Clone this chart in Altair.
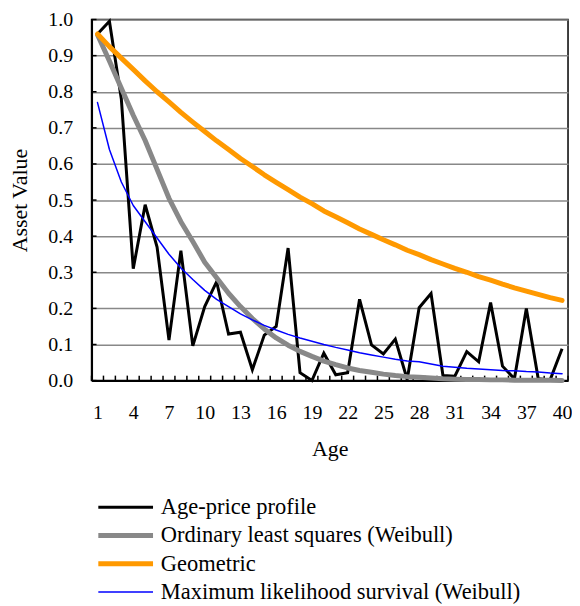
import altair as alt
import pandas as pd

ages = list(range(1, 41))

age_price = [0.960, 0.995, 0.780, 0.310, 0.487, 0.370, 0.112, 0.360, 0.096, 0.205,
             0.274, 0.129, 0.134, 0.030, 0.126, 0.150, 0.367, 0.022, 0.000, 0.076,
             0.016, 0.022, 0.225, 0.099, 0.074, 0.115, 0.003, 0.202, 0.241, 0.014,
             0.012, 0.080, 0.052, 0.216, 0.040, 0.005, 0.200, 0.005, 0.002, 0.088]

ols_weibull = [0.958, 0.885, 0.810, 0.735, 0.665, 0.585, 0.505, 0.440, 0.385, 0.328,
               0.285, 0.242, 0.205, 0.172, 0.143, 0.118, 0.098, 0.081, 0.067, 0.054,
               0.044, 0.035, 0.028, 0.023, 0.018, 0.014, 0.011, 0.009, 0.007, 0.005,
               0.004, 0.003, 0.003, 0.002, 0.002, 0.001, 0.001, 0.001, 0.001, 0.000]

geometric = [0.960, 0.925, 0.893, 0.862, 0.830, 0.800, 0.772, 0.743, 0.716, 0.690,
             0.664, 0.640, 0.615, 0.593, 0.570, 0.549, 0.529, 0.508, 0.490, 0.470,
             0.454, 0.437, 0.420, 0.405, 0.390, 0.376, 0.361, 0.349, 0.335, 0.323,
             0.311, 0.300, 0.288, 0.278, 0.267, 0.257, 0.248, 0.239, 0.230, 0.222]

ml_survival = [0.770, 0.640, 0.550, 0.485, 0.440, 0.395, 0.350, 0.312, 0.280, 0.250,
               0.225, 0.205, 0.185, 0.168, 0.153, 0.140, 0.128, 0.118, 0.109, 0.100,
               0.092, 0.085, 0.077, 0.071, 0.065, 0.059, 0.054, 0.052, 0.046, 0.040,
               0.037, 0.034, 0.032, 0.030, 0.028, 0.027, 0.025, 0.024, 0.021, 0.019]

series_names = ["Age-price profile", "Ordinary least squares (Weibull)",
                "Geometric", "Maximum likelihood survival (Weibull)"]
series_values = [age_price, ols_weibull, geometric, ml_survival]
series_colors = ["#000000", "#888888", "#FF9900", "#0000FF"]
series_widths = [3, 5, 5, 1.5]

x_tick_labels = [1, 4, 7, 10, 13, 16, 19, 22, 25, 28, 31, 34, 37, 40]
y_tick_values = [0.0, 0.1, 0.2, 0.3, 0.4, 0.5, 0.6, 0.7, 0.8, 0.9, 1.0]

FONT = "Liberation Serif, Times New Roman, DejaVu Serif, serif"

rows = []
for name, vals in zip(series_names, series_values):
    for a, v in zip(ages, vals):
        rows.append({"Age": a, "Value": v, "Series": name})
df = pd.DataFrame(rows)

bounds = pd.DataFrame({"b": [a - 0.5 for a in ages] + [ages[-1] + 0.5]})
yt = pd.DataFrame({"t": y_tick_values})

x_scale = alt.Scale(domain=[ages[0] - 0.5, ages[-1] + 0.5], nice=False, zero=False)
y_scale = alt.Scale(domain=[0, 1], nice=False)

legend = alt.Legend(
    title=None, orient="none", legendX=23, legendY=479, direction="vertical",
    symbolType="M-5,0H5", symbolSize=121, labelFont=FONT, labelFontSize=22.6,
    labelColor="#000000", labelOffset=24, rowPadding=5.4, labelLimit=600,
)

x_axis = alt.Axis(values=x_tick_labels, grid=False, tickSize=0, domainColor="#000000",
                  domainWidth=2, labelFont=FONT, labelFontSize=20, labelColor="#000000",
                  labelPadding=22, title="Age", titleFont=FONT, titleFontSize=22,
                  titleFontWeight="normal", titleColor="#000000", titlePadding=16,
                  labelFlush=False)
y_axis = alt.Axis(values=y_tick_values, format=".1f", grid=True, gridColor="#888888",
                  gridWidth=1.5, tickSize=0, domainColor="#000000", domainWidth=2,
                  labelFont=FONT, labelFontSize=20, labelColor="#000000", labelPadding=19,
                  title="Asset Value", titleFont=FONT, titleFontSize=22,
                  titleFontWeight="normal", titleColor="#000000", titlePadding=16)

color_scale = alt.Scale(type="ordinal", domain=series_names, range=series_colors)
width_scale = alt.Scale(type="ordinal", domain=series_names, range=series_widths)

layers = []
for i, name in enumerate(series_names):
    enc = dict(
        x=alt.X("Age:Q", scale=x_scale, axis=x_axis),
        y=alt.Y("Value:Q", scale=y_scale, axis=y_axis),
        color=alt.Color("Series:N", scale=color_scale, legend=legend),
        strokeWidth=alt.StrokeWidth("Series:N", scale=width_scale, legend=legend),
    )
    cap = "butt" if i == 0 else "round"
    layers.append(
        alt.Chart(df).transform_filter(alt.datum.Series == name)
        .mark_line(strokeCap=cap, strokeJoin="miter" if i == 0 else "round")
        .encode(**enc)
    )

x_ticks = alt.Chart(bounds).mark_rule(color="#000000", strokeWidth=1.5).encode(
    x=alt.X("b:Q", scale=x_scale, axis=x_axis), y=alt.value(358), y2=alt.value(363))
y_ticks = alt.Chart(yt).mark_rule(color="#000000", strokeWidth=1.5).encode(
    y=alt.Y("t:Q", scale=y_scale, axis=y_axis), x=alt.value(0), x2=alt.value(5))

chart = alt.layer(x_ticks, y_ticks, *layers).properties(
    width=479, height=363,
    autosize=alt.AutoSizeParams(type="none"),
    padding={"left": 84, "top": 10, "right": 4, "bottom": 223},
    background="#ffffff",
).configure_view(stroke="#000000", strokeWidth=1.5)

chart.save("out.html", embed_options={"renderer": "svg", "actions": False})
